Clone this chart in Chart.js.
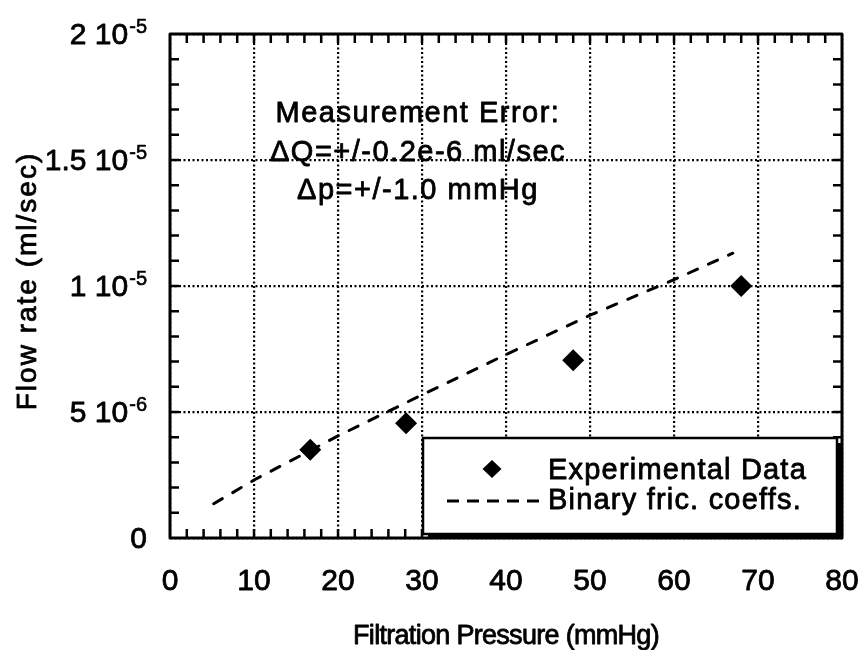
<!DOCTYPE html>
<html>
<head>
<meta charset="utf-8">
<script src="https://cdn.jsdelivr.net/npm/chart.js@4.4.0/dist/chart.umd.min.js"></script>
<style>
html, body { margin: 0; padding: 0; background: #fff; }
</style>
</head>
<body>
<canvas id="myChart" width="863" height="650"></canvas>
<script>
// measured points
var pressure = [16.7, 28.1, 48.0, 68.0];
var flow = [3.5e-6, 4.55e-6, 7.05e-6, 1.0e-5];

// model curve (binary friction coefficients)
var modelPressure = [5.2, 10, 20, 30, 40, 50, 60, 67];
var modelFlow = [1.36e-6, 2.3e-6, 4.05e-6, 5.68e-6, 7.28e-6, 8.84e-6, 10.25e-6, 11.3e-6];

var xTicks = [0, 10, 20, 30, 40, 50, 60, 70, 80];
var yTicks = [0, 5e-6, 1e-5, 1.5e-5, 2e-5];
var yTickBase = ['0', '5 10', '1 10', '1.5 10', '2 10'];
var yTickExp = ['', '-6', '-5', '-5', '-5'];

var notes = ['Measurement Error:', '\u0394Q=+/-0.2e-6 ml/sec', '\u0394p=+/-1.0 mmHg'];
var legendLabels = ['Experimental Data', 'Binary fric. coeffs.'];

var FONT = '"Liberation Sans", Arial, Helvetica, sans-serif';

// fill + thin stroke so the text looks as heavy as the scanned original
function heavyText(ctx, s, x, y, w) {
    ctx.lineWidth = w || 0.8;
    ctx.fillText(s, x, y);
    ctx.strokeText(s, x, y);
}

var extras = {
    id: 'extras',
    afterDraw: function(chart) {
        var ctx = chart.ctx;
        var a = chart.chartArea;
        var xs = chart.scales.x;
        var ys = chart.scales.y;
        var i, v, p;
        ctx.save();
        ctx.strokeStyle = '#000';
        ctx.fillStyle = '#000';
        ctx.lineJoin = 'round';

        // inward ticks on all four sides
        ctx.lineWidth = 2.5;
        ctx.beginPath();
        for (v = 2; v < 80; v += 2) {
            p = xs.getPixelForValue(v);
            ctx.moveTo(p, a.bottom); ctx.lineTo(p, a.bottom - 9);
            ctx.moveTo(p, a.top); ctx.lineTo(p, a.top + 9);
        }
        for (i = 1; i < 20; i++) {
            p = ys.getPixelForValue(i * 1e-6);
            ctx.moveTo(a.left, p); ctx.lineTo(a.left + 9, p);
            ctx.moveTo(a.right, p); ctx.lineTo(a.right - 9, p);
        }
        ctx.stroke();

        // frame
        ctx.lineWidth = 3;
        ctx.strokeRect(a.left, a.top, a.right - a.left, a.bottom - a.top);

        // x tick labels
        ctx.font = '30px ' + FONT;
        ctx.textAlign = 'center';
        ctx.textBaseline = 'alphabetic';
        for (i = 0; i < xTicks.length; i++) {
            heavyText(ctx, String(xTicks[i]), xs.getPixelForValue(xTicks[i]), a.bottom + 52);
        }

        // y tick labels with superscript exponent
        var rightEdge = a.left - 23;
        for (i = 0; i < yTicks.length; i++) {
            p = ys.getPixelForValue(yTicks[i]);
            var ew = 0;
            ctx.textAlign = 'right';
            if (yTickExp[i]) {
                ctx.font = '20px ' + FONT;
                ew = ctx.measureText(yTickExp[i]).width;
                heavyText(ctx, yTickExp[i], rightEdge, p - 1, 0.6);
            }
            ctx.font = '30px ' + FONT;
            heavyText(ctx, yTickBase[i], rightEdge - ew - (ew ? 1 : 0), p + 10);
        }

        // axis titles
        ctx.font = '27px ' + FONT;
        ctx.letterSpacing = '-0.7px';
        ctx.textAlign = 'center';
        heavyText(ctx, 'Filtration Pressure (mmHg)', (a.left + a.right) / 2, 644);
        ctx.save();
        ctx.translate(36, 281);
        ctx.rotate(-Math.PI / 2);
        ctx.font = '28px ' + FONT;
        ctx.letterSpacing = '2px';
        heavyText(ctx, 'Flow rate (ml/sec)', 0, 0);
        ctx.restore();

        // measurement error note
        ctx.font = '29px ' + FONT;
        ctx.letterSpacing = '1.5px';
        ctx.textAlign = 'center';
        var noteY = [122, 161, 199];
        for (i = 0; i < notes.length; i++) {
            heavyText(ctx, notes[i], 418, noteY[i]);
        }
        ctx.letterSpacing = '0px';

        // legend box with shadow
        var bx = 423, by = 438, bw = 414, bh = 96;
        ctx.fillRect(bx + 5, by + 5, bw, bh);
        ctx.fillStyle = '#fff';
        ctx.fillRect(bx, by, bw, bh);
        ctx.fillStyle = '#000';
        ctx.lineWidth = 2.5;
        ctx.strokeRect(bx, by, bw, bh);

        // legend: diamond
        ctx.beginPath();
        ctx.moveTo(492, 460); ctx.lineTo(501.5, 469); ctx.lineTo(492, 478); ctx.lineTo(482.5, 469);
        ctx.closePath();
        ctx.fill();
        // legend: dashed line
        ctx.lineWidth = 3;
        ctx.setLineDash([12, 8]);
        ctx.beginPath();
        ctx.moveTo(447, 501); ctx.lineTo(543, 501);
        ctx.stroke();
        ctx.setLineDash([]);

        ctx.font = '29px ' + FONT;
        ctx.letterSpacing = '1.2px';
        ctx.textAlign = 'left';
        heavyText(ctx, legendLabels[0], 548, 479);
        heavyText(ctx, legendLabels[1], 548, 509);
        ctx.restore();
    }
};

var data = {
    datasets: [{
        label: legendLabels[0],
        data: pressure.map(function(x, i) { return {x: x, y: flow[i]}; }),
        showLine: false,
        pointStyle: 'rectRot',
        pointRadius: 11,
        backgroundColor: '#000',
        borderColor: '#000',
        borderWidth: 0
    }, {
        label: legendLabels[1],
        data: modelPressure.map(function(x, i) { return {x: x, y: modelFlow[i]}; }),
        showLine: true,
        pointRadius: 0,
        borderColor: '#000',
        borderWidth: 3,
        borderDash: [10, 12],
        borderCapStyle: 'round',
        fill: false
    }]
};

var config = {
    type: 'scatter',
    data: data,
    options: {
        responsive: false,
        animation: false,
        layout: { padding: { left: 170, top: 34, right: 21, bottom: 112 } },
        plugins: { legend: { display: false }, tooltip: { enabled: false } },
        scales: {
            x: {
                type: 'linear', min: 0, max: 80,
                ticks: { display: false, stepSize: 10 },
                grid: { color: '#000', lineWidth: 2.2, drawTicks: false },
                border: { display: false, dash: [2, 2.5] }
            },
            y: {
                type: 'linear', min: 0, max: 2e-5,
                ticks: { display: false, stepSize: 5e-6 },
                grid: { color: '#000', lineWidth: 2.2, drawTicks: false },
                border: { display: false, dash: [2, 2.5] }
            }
        }
    },
    plugins: [extras]
};

var myChart = new Chart(document.getElementById('myChart'), config);
</script>
</body>
</html>
